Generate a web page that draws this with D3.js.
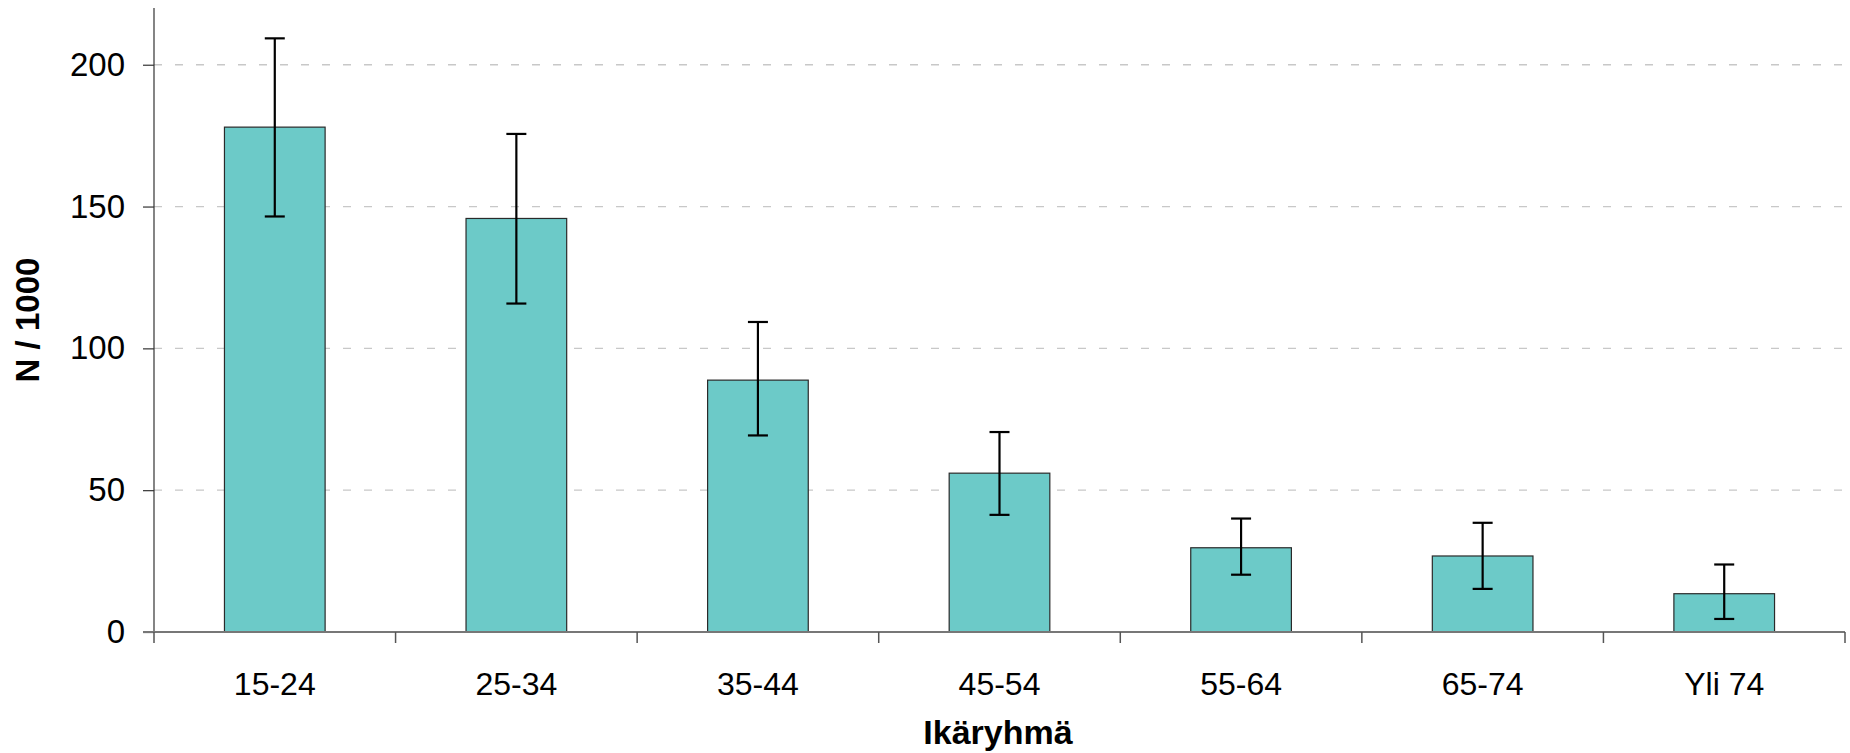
<!DOCTYPE html>
<html>
<head>
<meta charset="utf-8">
<script src="https://cdn.jsdelivr.net/npm/d3@7"></script>
<style>
  html, body { margin: 0; padding: 0; background: #fff; }
  svg { display: block; }
  text { font-family: "Liberation Sans", Arial, sans-serif; }
</style>
</head>
<body>
<svg id="chart" width="1850" height="753"></svg>
<script>
const categories = ["15-24", "25-34", "35-44", "45-54", "55-64", "65-74", "Yli 74"];
const values     = [178, 145.8, 88.8, 56, 29.7, 26.8, 13.5];
const errLow     = [146.5, 115.8, 69.3, 41.3, 20.2, 15.2, 4.6];
const errHigh    = [209.3, 175.6, 109.3, 70.5, 40, 38.5, 23.8];
const yTicks     = [0, 50, 100, 150, 200];
const yTitle = "N / 1000";
const xTitle = "Ikäryhmä";

(function () {
const svg = d3.select("#chart");
const mLeft = 154, mRight = 1845, mTop = 8, mBottom = 632;
const fontFam = "'Liberation Sans', Arial, sans-serif";

const x = d3.scaleBand().domain(categories).range([mLeft, mRight]).padding(0);
const y = d3.scaleLinear().domain([0, 220]).range([mBottom, mTop]);
const barW = x.bandwidth() / 2.4;

// gridlines
svg.append("g").selectAll("line").data(yTicks.filter(d => d > 0)).join("line")
  .attr("x1", mLeft).attr("x2", mRight)
  .attr("y1", d => y(d)).attr("y2", d => y(d))
  .attr("stroke", "#c8c8c8").attr("stroke-width", 1.3)
  .attr("stroke-dasharray", "8,13");

// bars
svg.append("g").selectAll("rect").data(categories).join("rect")
  .attr("x", (c) => x(c) + (x.bandwidth() - barW) / 2)
  .attr("y", (c, i) => y(values[i]))
  .attr("width", barW)
  .attr("height", (c, i) => y(0) - y(values[i]))
  .attr("fill", "#6ccac8")
  .attr("stroke", "#2a2a2a").attr("stroke-width", 1.2);

// error bars
const capW = 20;
const eg = svg.append("g").attr("stroke", "#000").attr("stroke-width", 2.2);
categories.forEach((c, i) => {
  const cx = x(c) + x.bandwidth() / 2;
  eg.append("line").attr("x1", cx).attr("x2", cx).attr("y1", y(errLow[i])).attr("y2", y(errHigh[i]));
  eg.append("line").attr("x1", cx - capW / 2).attr("x2", cx + capW / 2).attr("y1", y(errLow[i])).attr("y2", y(errLow[i]));
  eg.append("line").attr("x1", cx - capW / 2).attr("x2", cx + capW / 2).attr("y1", y(errHigh[i])).attr("y2", y(errHigh[i]));
});

// y axis
const yAxis = d3.axisLeft(y).tickValues(yTicks).tickSize(11).tickPadding(18).tickSizeOuter(0);
const gy = svg.append("g").attr("transform", `translate(${mLeft},0)`).call(yAxis);
gy.select(".domain").attr("stroke", "#333").attr("stroke-width", 1.2).attr("d", `M0,${y(0)}V${mTop}`);
gy.selectAll(".tick line").attr("stroke", "#333").attr("stroke-width", 1.2);
gy.selectAll(".tick text").attr("font-size", 33).attr("fill", "#000")
  .attr("font-family", fontFam);

// x axis
const xAxis = d3.axisBottom(x).tickSize(0).tickPadding(40);
const gx = svg.append("g").attr("transform", `translate(0,${mBottom})`).call(xAxis);
gx.select(".domain").attr("stroke", "#777").attr("stroke-width", 2).attr("d", `M${mLeft - 11},0H${mRight}`);
gx.selectAll(".tick text").attr("font-size", 32).attr("fill", "#000").attr("dy", "0.71em")
  .attr("font-family", fontFam);
const edges = categories.map(c => x(c)).concat([mRight]);
gx.append("g").selectAll("line").data(edges).join("line")
  .attr("x1", d => d).attr("x2", d => d).attr("y1", 0).attr("y2", 11)
  .attr("stroke", "#555").attr("stroke-width", 1.5);

// titles
svg.append("text")
  .attr("transform", `translate(39,${(y(0) + mTop) / 2}) rotate(-90)`)
  .attr("text-anchor", "middle")
  .attr("font-size", 33).attr("font-weight", "bold")
  .attr("font-family", fontFam)
  .text(yTitle);

svg.append("text")
  .attr("x", 998).attr("y", 744)
  .attr("text-anchor", "middle")
  .attr("font-size", 34).attr("font-weight", "bold")
  .attr("font-family", fontFam)
  .text(xTitle);
})();
</script>
</body>
</html>
